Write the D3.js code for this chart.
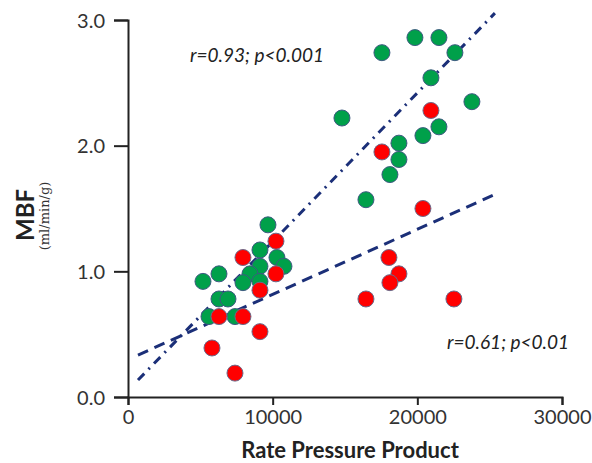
<!DOCTYPE html>
<html>
<head>
<meta charset="utf-8">
<script src="https://cdn.jsdelivr.net/npm/d3@7"></script>
<style>
  html, body { margin: 0; padding: 0; background: #fff; }
  svg { display: block; }
</style>
</head>
<body>
<svg id="chart" width="592" height="463"></svg>
<script>
// ---- data ----
const xTicks = [0, 10000, 20000, 30000];
const yTicks = [0, 1, 2, 3];

const greenX = [9675, 9122, 10297, 10781, 9122, 8431, 7947, 9122, 5183, 6289, 6289, 6911, 5598, 7395,
                19834, 21493, 22598, 17553, 20940, 23773, 14789, 21493, 20387, 18728, 18728, 18106, 16448];
const greenY = [1.37, 1.17, 1.11, 1.04, 1.04, 0.98, 0.91, 0.92, 0.92, 0.98, 0.78, 0.78, 0.64, 0.64,
                2.86, 2.86, 2.74, 2.74, 2.54, 2.35, 2.22, 2.15, 2.08, 2.02, 1.89, 1.77, 1.57];

const redX = [10228, 7947, 10228, 9122, 6289, 7947, 9122, 5805, 7395,
              20940, 17553, 20387, 18037, 18728, 18106, 16448, 22529];
const redY = [1.24, 1.11, 0.98, 0.85, 0.64, 0.64, 0.52, 0.39, 0.19,
              2.28, 1.95, 1.50, 1.11, 0.98, 0.91, 0.78, 0.78];

// regression lines: [all data (dash-dot), red group (dashed)]
const fitSlope = [1.1835e-4, 5.18e-5];
const fitIntercept = [0.053, 0.298];
const fitStart = [691, 691];
const fitEnd = [25363, 25570];
const fitLabel = ["r=0.93; p<0.001", "r=0.61; p<0.01"];

// ---- drawing ----
const svg = d3.select("#chart");
const x = d3.scaleLinear().domain([0, 30000]).range([128, 562]);
const y = d3.scaleLinear().domain([0, 3]).range([397, 20]);

const font = "Lato, 'Open Sans', sans-serif";

// axes
const yAxis = d3.axisLeft(y).tickValues(yTicks).tickSize(14).tickSizeOuter(14).tickFormat(d3.format(".1f"));
const xAxis = d3.axisBottom(x).tickValues(xTicks).tickSize(8).tickSizeOuter(8).tickFormat(d3.format("d"));

const gy = svg.append("g").attr("transform", `translate(${x(0)},0)`).call(yAxis);
const gx = svg.append("g").attr("transform", `translate(0,${y(0)})`).call(xAxis);

[gx, gy].forEach(g => {
  g.select(".domain").attr("stroke", "#222").attr("stroke-width", 2);
  g.selectAll(".tick line").attr("stroke", "#222").attr("stroke-width", 2);
  g.selectAll(".tick text").attr("fill", "#333").style("font-family", font).style("font-size", "20px");
});
gy.selectAll(".tick text").attr("x", -23).attr("dy", "0.36em");
gx.selectAll(".tick text").attr("y", 13).attr("dy", "0.71em");

// fit lines
const dashes = ["9,6,2,6", "11,7"];
fitSlope.forEach((s, i) => {
  svg.append("line")
    .attr("x1", x(fitStart[i])).attr("y1", y(fitIntercept[i] + s * fitStart[i]))
    .attr("x2", x(fitEnd[i])).attr("y2", y(fitIntercept[i] + s * fitEnd[i]))
    .attr("stroke", "#1b2f78").attr("stroke-width", 3)
    .attr("stroke-dasharray", dashes[i]);
});

// points
const green = greenX.map((d, i) => ({x: d, y: greenY[i]}));
const red = redX.map((d, i) => ({x: d, y: redY[i]}));

svg.append("g").selectAll("circle").data(green).join("circle")
  .attr("cx", d => x(d.x)).attr("cy", d => y(d.y)).attr("r", 8)
  .attr("fill", "#00a04a").attr("stroke", "#3d5a80").attr("stroke-width", 1);

svg.append("g").selectAll("circle").data(red).join("circle")
  .attr("cx", d => x(d.x)).attr("cy", d => y(d.y)).attr("r", 8)
  .attr("fill", "#ff0000").attr("stroke", "#6a6a8a").attr("stroke-width", 1);

// annotations
svg.append("text").attr("x", 190).attr("y", 62)
  .style("font-family", font).style("font-style", "italic").style("font-size", "19px")
  .attr("fill", "#222").text(fitLabel[0]);
svg.append("text").attr("x", 447).attr("y", 349)
  .style("font-family", font).style("font-style", "italic").style("font-size", "19px")
  .attr("fill", "#222").text(fitLabel[1]);

// axis titles
svg.append("text").attr("x", 350).attr("y", 458).attr("text-anchor", "middle")
  .style("font-family", font).style("font-weight", "bold").style("font-size", "22px")
  .attr("fill", "#222").text("Rate Pressure Product");

svg.append("text").attr("transform", "translate(34,215) rotate(-90)").attr("text-anchor", "middle")
  .style("font-family", font).style("font-weight", "bold").style("font-size", "24px")
  .attr("fill", "#222").text("MBF");

svg.append("text").attr("transform", "translate(49,216) rotate(-90)").attr("text-anchor", "middle")
  .style("font-family", "'DejaVu Serif', serif").style("font-size", "13px")
  .attr("fill", "#333").text("(ml/min/g)");
</script>
</body>
</html>
